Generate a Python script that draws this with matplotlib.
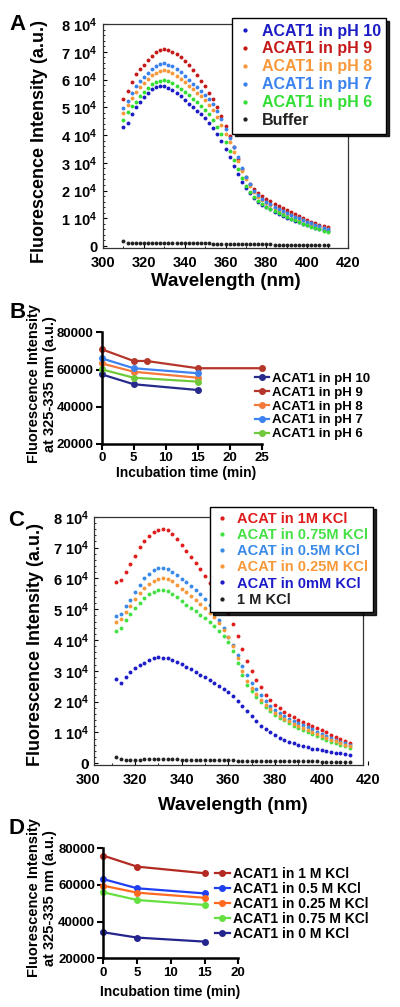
import matplotlib
matplotlib.use("Agg")
import matplotlib.pyplot as plt
import numpy as np
from matplotlib.ticker import MultipleLocator

plt.rcParams['font.family'] = ['Liberation Sans', 'DejaVu Sans']
plt.rcParams['font.weight'] = 'bold'
plt.rcParams['mathtext.fontset'] = 'custom'
plt.rcParams['mathtext.rm'] = 'Liberation Sans:bold'
plt.rcParams['mathtext.default'] = 'rm'

# ---- panel A: emission spectra at different pH (310-410 nm, every 2 nm)
wl_a = np.arange(310, 411, 2)
ph10 = [43000, 44500, 47500, 50000, 52000, 53800, 55200, 56500, 57300, 57700,
        57600, 57000, 56200, 55200, 54000, 52500, 51300, 50000, 48800, 47500,
        46000, 44400, 42500, 40300, 37800, 35000, 32000, 29000, 26000, 23000,
        20800, 19000, 17300, 16000, 14900, 14000, 13200, 12400, 11600, 10900,
        10200, 9600, 9000, 8500, 8000, 7600, 7100, 6600, 6100, 5700, 5300]
ph9 = [52900, 56000, 59000, 62000, 63800, 65200, 66900, 68500, 69900, 70800,
       71000, 70700, 70000, 69100, 68000, 66800, 65300, 63500, 61600, 59600,
       57500, 55300, 52800, 50000, 46800, 43200, 39500, 35500, 31500, 27800,
       24800, 22500, 20700, 19200, 18000, 17000, 16100, 15200, 14400, 13600,
       12800, 12100, 11400, 10700, 10000, 9400, 8800, 8200, 7700, 7200, 6700]
ph8 = [48000, 50800, 53200, 55500, 57300, 58800, 60200, 61500, 62500, 63200,
       63300, 63000, 62300, 61400, 60300, 59000, 57800, 56500, 55200, 54000,
       52500, 50900, 49000, 46500, 43600, 40500, 37300, 34000, 30500, 27000,
       24000, 21500, 19400, 17800, 16500, 15500, 14600, 13800, 13000, 12300,
       11600, 11000, 10400, 9800, 9200, 8600, 8000, 7500, 7000, 6500, 6000]
ph7 = [49600, 52400, 55200, 57600, 59400, 61000, 62500, 63800, 64900, 65700,
       65800, 65400, 64700, 63800, 62600, 61300, 59900, 58500, 57200, 55900,
       54400, 52800, 51000, 48700, 45600, 42000, 38800, 35500, 32000, 28000,
       24800, 22200, 20000, 18300, 17000, 15900, 15000, 14200, 13400, 12600,
       11900, 11200, 10600, 10000, 9400, 8800, 8200, 7600, 7100, 6600, 6200]
ph6 = [45500, 48200, 50300, 52000, 53900, 55500, 57000, 58200, 59100, 59600,
       59700, 59500, 58700, 57800, 56700, 55500, 54300, 53000, 51800, 50500,
       49000, 47400, 45500, 43000, 40300, 37500, 34400, 31000, 27600, 24500,
       21800, 19500, 17800, 16300, 15200, 14200, 13400, 12600, 11900, 11200,
       10500, 9900, 9300, 8700, 8100, 7500, 7000, 6500, 6000, 5500, 5100]
buffer_a = [1800, 1200, 1100, 1000, 1050, 1100, 1150, 1200, 1200, 1250,
            1200, 1250, 1200, 1150, 1150, 1100, 1100, 1050, 1000, 1000,
            950, 950, 900, 900, 850, 850, 800, 800, 750, 700,
            700, 650, 650, 600, 600, 550, 550, 500, 500, 500,
            450, 450, 450, 400, 400, 400, 350, 350, 350, 300, 300]
labels_a = ["ACAT1 in pH 10", "ACAT1 in pH 9", "ACAT1 in pH 8",
            "ACAT1 in pH 7", "ACAT1 in pH 6", "Buffer"]
colors_a = ["#1c1cc4", "#c41a1a", "#f7983a", "#3a82ee", "#33dd33", "#222222"]

# ---- panel B: intensity at 325-335 nm vs incubation time
t_b = [0, 5, 15]
t_b9 = [0, 5, 7, 15, 25]
b_ph10 = [57400, 52100, 49000]
b_ph9 = [70900, 64600, 64600, 60700, 60700]
b_ph8 = [63300, 58800, 55600]
b_ph7 = [66000, 60700, 58000]
b_ph6 = [60100, 55600, 53500]
labels_b = ["ACAT1 in pH 10", "ACAT1 in pH 9", "ACAT1 in pH 8",
            "ACAT1 in pH 7", "ACAT1 in pH 6"]
colors_b = ["#262b8c", "#b5362a", "#f47a3c", "#3d82f0", "#70c93a"]

# ---- panel C: emission spectra at different KCl (312-412 nm, every 2 nm)
wl_c = np.arange(312, 413, 2)
kcl_1m = [58800, 59500, 62000, 64500, 67200, 70200, 72200, 73800, 75000, 75800,
          76000, 75600, 74500, 72800, 70800, 68800, 66900, 65000, 63000, 60800,
          58600, 56300, 54000, 51500, 48800, 45200, 41300, 37200, 33300, 29800,
          27000, 24600, 22300, 20400, 19000, 17800, 16700, 15800, 15000, 14200,
          13500, 12800, 12100, 11400, 10700, 10000, 9300, 8600, 8000, 7300, 6600]
kcl_075 = [43000, 44000, 46500, 48500, 50500, 52000, 53500, 54800, 55600, 56200,
           56300, 55800, 55000, 53800, 52700, 51500, 50400, 49300, 48200, 47100,
           45800, 44500, 43000, 41300, 39200, 36500, 32500, 28500, 25500, 23300,
           21500, 19900, 18400, 17000, 15800, 14800, 13900, 13000, 12200, 11500,
           10800, 10100, 9400, 8800, 8200, 7600, 7000, 6500, 6000, 5500, 5100]
kcl_05 = [47800, 48500, 51000, 53000, 55500, 58000, 60000, 61500, 62700, 63300,
          63200, 63000, 62200, 61000, 59900, 58800, 57600, 56200, 54800, 53400,
          51500, 49200, 46600, 43800, 41000, 38300, 35000, 31500, 28500, 26000,
          24000, 22000, 20200, 18600, 17200, 16200, 15300, 14500, 13800, 13100,
          12400, 11700, 11000, 10300, 9600, 8900, 8200, 7600, 7000, 6500, 6000]
kcl_025 = [46000, 46800, 49000, 51000, 53200, 55200, 57000, 58300, 59300, 59800,
           60000, 59700, 59000, 57800, 56700, 55500, 54300, 53000, 51700, 50400,
           48900, 47300, 45500, 43400, 41000, 38000, 34300, 30000, 26800, 24400,
           22400, 20600, 19000, 17600, 16400, 15400, 14500, 13700, 12900, 12200,
           11500, 10800, 10100, 9500, 8900, 8300, 7700, 7200, 6600, 6100, 5600]
kcl_0 = [27300, 26200, 28000, 29500, 30800, 31800, 32700, 33500, 34100, 34500,
         34200, 34000, 33600, 32900, 32200, 31400, 30500, 29600, 28700, 27900,
         27000, 26100, 25200, 24200, 23100, 21700, 20200, 18600, 16900, 15200,
         13600, 12200, 11000, 10000, 9100, 8300, 7600, 7000, 6500, 6000,
         5600, 5200, 4800, 4500, 4200, 3900, 3700, 3400, 3200, 3000, 2800]
kcl_blank = [2000, 1300, 1200, 1200, 1150, 1200, 1250, 1300, 1250, 1300,
             1300, 1350, 1300, 1250, 1200, 1200, 1150, 1150, 1100, 1100,
             1050, 1050, 1000, 1000, 950, 950, 900, 900, 850, 850,
             800, 800, 800, 750, 750, 700, 700, 700, 650, 650,
             650, 600, 600, 600, 550, 550, 550, 500, 500, 500, 500]
labels_c = ["ACAT in 1M KCl", "ACAT in 0.75M KCl", "ACAT in 0.5M KCl",
            "ACAT in 0.25M KCl", "ACAT in 0mM KCl", "1 M KCl"]
colors_c = ["#e01c1c", "#44e044", "#3a8ae8", "#f7983a", "#1c1cc8", "#222222"]

# ---- panel D: intensity at 325-335 nm vs incubation time, KCl series
t_d = [0, 5, 15]
d_1m = [76000, 70000, 66400]
d_05 = [63200, 58200, 55400]
d_025 = [59600, 55800, 53000]
d_075 = [56000, 51800, 49100]
d_0 = [34200, 31300, 29100]
labels_d = ["ACAT1 in 1 M KCl", "ACAT1 in 0.5 M KCl", "ACAT1 in 0.25 M KCl",
            "ACAT1 in 0.75 M KCl", "ACAT1 in 0 M KCl"]
colors_d = ["#b22a22", "#2040f0", "#ff6a20", "#66e040", "#24248f"]

W, H = 400, 1007
fig = plt.figure(figsize=(W / 100, H / 100), dpi=100)


def box(l, t, r, b):
    # pixel box -> figure fraction rect
    return [l / W, 1 - b / H, (r - l) / W, (b - t) / H]


def spectrum_axes(ax, ylo):
    ax.set_xlim(300, 420)
    ax.set_ylim(ylo, 80000)
    ax.set_xticks(np.arange(300, 421, 20))
    ax.xaxis.set_minor_locator(MultipleLocator(10))
    ax.set_yticks(np.arange(0, 80001, 10000))
    ax.set_yticklabels(["0"] + ["%d 10$^4$" % i for i in range(1, 9)])
    ax.yaxis.set_minor_locator(MultipleLocator(2000))
    ax.tick_params(which='both', direction='in', top=False, right=False)
    ax.tick_params(which='major', length=3, width=0.8)
    ax.tick_params(which='minor', length=1.5, width=0.6)
    ax.tick_params(axis='y', labelsize=10.5, pad=4)
    ax.tick_params(axis='x', labelsize=10.5, pad=6)
    for s in ax.spines.values():
        s.set_linewidth(0.9)
        s.set_color('#333333')


def time_axes(ax, xmax):
    ax.set_xlim(0, xmax)
    ax.set_ylim(20000, 80000)
    ax.set_xticks(np.arange(0, xmax + 1, 5))
    ax.set_yticks([20000, 40000, 60000, 80000])
    ax.spines['top'].set_visible(False)
    ax.spines['right'].set_visible(False)
    ax.spines['left'].set_linewidth(1.8)
    ax.spines['bottom'].set_linewidth(1.8)
    ax.tick_params(direction='out', length=4, width=1.5, labelsize=9.5, pad=2)


def boxed_legend(ax, colors, anchor, size, spacing):
    leg = ax.legend(loc='upper left', bbox_to_anchor=anchor,
                    bbox_transform=fig.transFigure, borderaxespad=0,
                    fontsize=size, numpoints=1, markerscale=1.1,
                    handlelength=0.9, handletextpad=0.6, labelspacing=spacing,
                    borderpad=0.35, fancybox=False,
                    shadow={'color': 'black', 'alpha': 0.85}, framealpha=1)
    leg.get_frame().set_edgecolor('black')
    leg.get_frame().set_linewidth(1.0)
    for txt, c in zip(leg.get_texts(), colors):
        txt.set_color(c)
    return leg


# panel A
axA = fig.add_axes(box(103, 24, 348, 248))
for y, c, lab in zip([ph10, ph9, ph8, ph7, ph6, buffer_a], colors_a, labels_a):
    axA.plot(wl_a, y, 'o', ms=2.8, mew=0, color=c, label=lab)
spectrum_axes(axA, -720)
boxed_legend(axA, colors_a, (232 / W, 1 - 18 / H), 11.5, 0.18)
fig.text(40 / W, 1 - 141 / H, "Fluorescence Intensity (a.u.)", rotation=90,
         ha='center', va='center', fontsize=13)
fig.text(226 / W, 1 - 282 / H, "Wavelength (nm)", ha='center', va='center',
         fontsize=13.5)
fig.text(18 / W, 1 - 25 / H, "A", ha='center', va='center', fontsize=16)

# panel B
axB = fig.add_axes(box(101.7, 332.3, 261.7, 444))
for x, y, c, lab in zip([t_b, t_b9, t_b, t_b, t_b],
                        [b_ph10, b_ph9, b_ph8, b_ph7, b_ph6], colors_b, labels_b):
    axB.plot(x, y, '-o', color=c, lw=1.6, ms=4, clip_on=False, label=lab)
time_axes(axB, 25)
axB.legend(loc='upper left', bbox_to_anchor=(252 / W, 1 - 370 / H),
           bbox_transform=fig.transFigure, borderaxespad=0, frameon=False,
           fontsize=9.5, handlelength=1.1, handletextpad=0.25,
           labelspacing=0.12, borderpad=0.2)
fig.text(42 / W, 1 - 384 / H, "Fluorescence Intensity\nat 325-335 nm (a.u.)",
         rotation=90, ha='center', va='center', fontsize=10.5, linespacing=1.1)
fig.text(186 / W, 1 - 473 / H, "Incubation time (min)", ha='center',
         va='center', fontsize=10)
fig.text(18 / W, 1 - 313 / H, "B", ha='center', va='center', fontsize=16)

# panel C
axC = fig.add_axes(box(88.3, 516.7, 368.3, 765))
for y, c, lab in zip([kcl_1m, kcl_075, kcl_05, kcl_025, kcl_0, kcl_blank],
                     colors_c, labels_c):
    axC.plot(wl_c, y, 'o', ms=2.8, mew=0, color=c, label=lab)
spectrum_axes(axC, -550)
axC.spines['left'].set_position(('data', 302.6))
axC.spines['right'].set_position(('data', 417.9))
axC.spines['top'].set_bounds(302.6, 417.9)
axC.spines['bottom'].set_bounds(302.6, 417.9)
boxed_legend(axC, colors_c, (210 / W, 1 - 506.7 / H), 10.5, 0.15)
fig.text(36 / W, 1 - 645 / H, "Fluorescence Intensity (a.u.)", rotation=90,
         ha='center', va='center', fontsize=13)
fig.text(233 / W, 1 - 805 / H, "Wavelength (nm)", ha='center', va='center',
         fontsize=13.5)
fig.text(16 / W, 1 - 520 / H, "C", ha='center', va='center', fontsize=16)

# panel D
axD = fig.add_axes(box(103.3, 848.3, 238.3, 958.3))
for y, c, lab in zip([d_1m, d_05, d_025, d_075, d_0], colors_d, labels_d):
    axD.plot(t_d, y, '-o', color=c, lw=1.6, ms=4, clip_on=False, label=lab)
time_axes(axD, 20)
axD.legend(loc='upper left', bbox_to_anchor=(212 / W, 1 - 864 / H),
           bbox_transform=fig.transFigure, borderaxespad=0, frameon=False,
           fontsize=10, handlelength=1.1, handletextpad=0.2,
           labelspacing=0.08, borderpad=0.2)
fig.text(42 / W, 1 - 898 / H, "Fluorescence Intensity\nat 325-335 nm (a.u.)",
         rotation=90, ha='center', va='center', fontsize=10.5, linespacing=1.1)
fig.text(170 / W, 1 - 992 / H, "Incubation time (min)", ha='center',
         va='center', fontsize=10)
fig.text(17 / W, 1 - 829 / H, "D", ha='center', va='center', fontsize=16)

fig.savefig("out.png", dpi=100)
